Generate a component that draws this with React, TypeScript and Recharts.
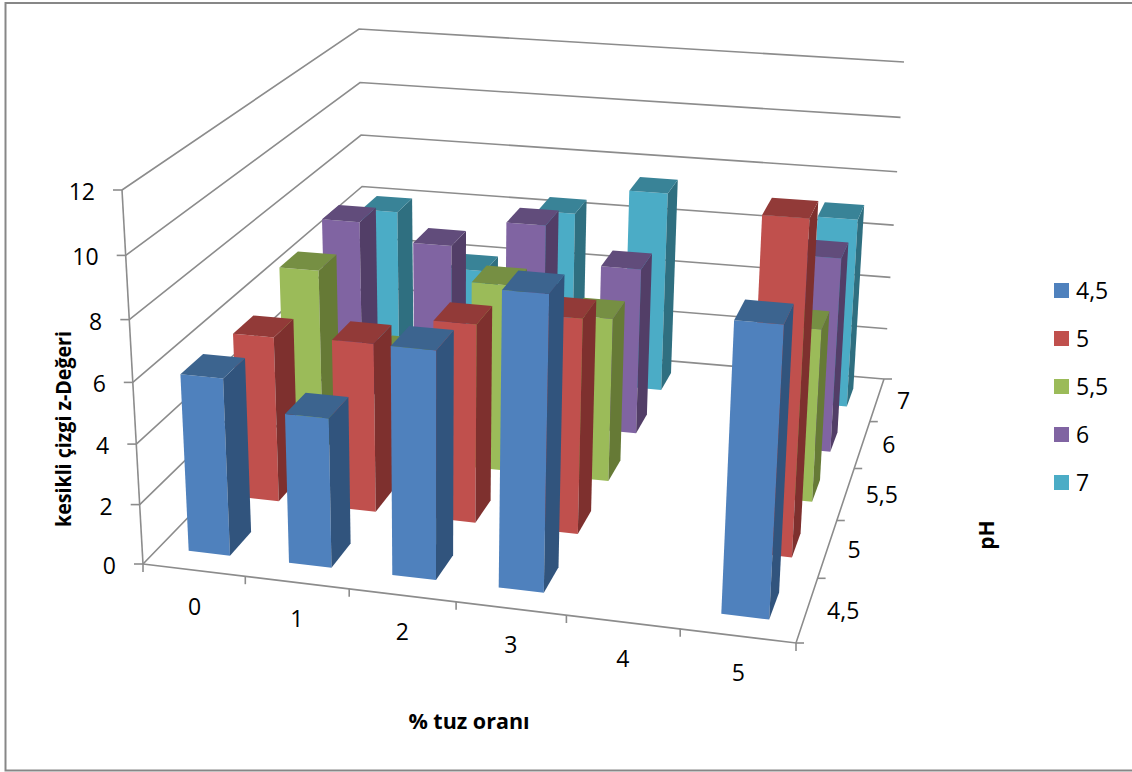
import { BarChart, Bar, XAxis, YAxis, Legend } from 'recharts';

const saltLabels = ['0', '1', '2', '3', '4', '5'];
const phLabels = ['4,5', '5', '5,5', '6', '7'];
const valueTicks = [0, 2, 4, 6, 8, 10, 12];

const ph45 = [5.9, 4.95, 7.45, 9.5, null, 9.2];
const ph5 = [5.7, 5.8, 6.75, 7.25, null, 11.0];
const ph55 = [6.55, 3.8, 6.6, 5.75, null, 6.0];
const ph6 = [6.95, 6.35, 7.35, 6.05, null, 7.0];
const ph7 = [6.05, 4.05, 6.5, 7.5, null, 7.05];

const seriesValues = [ph45, ph5, ph55, ph6, ph7];
const frontColors = ['#4F81BD', '#C0504D', '#9BBB59', '#8064A2', '#4BACC6'];
const topColors = ['#3C648F', '#923A38', '#768F43', '#614C7B', '#398397'];
const sideColors = ['#31547D', '#7E302E', '#667A36', '#523E67', '#2F6F80'];

const tableData = saltLabels.map((salt, i) => {
    const row: Record<string, string | number | null> = { salt };
    phLabels.forEach((ph, s) => { row[ph] = seriesValues[s][i]; });
    return row;
});

// flat plot area the library scales into, it then gets projected onto the 3d box
const PLOT = { left: 100, top: 100, width: 600, height: 480 };
const FONT = '"Open Sans", sans-serif';
const AXIS_COLOR = '#8C8C8C';
const AXIS_W = 60;
const AXIS_H = 30;
const BAR_SIZE = 41.5;

type Pt = [number, number];

// corners: front-left, front-right, back-right, back-left
const FLOOR: Pt[] = [[143, 564], [796, 643], [884, 379], [365, 335]];
const CEILING: Pt[] = [[122, 190], [817, 246], [904, 62], [359, 29]];

const squareToQuad = (q: Pt[]) => {
    const [[x0, y0], [x1, y1], [x2, y2], [x3, y3]] = q;
    const dx1 = x1 - x2, dx2 = x3 - x2, sx = x0 - x1 + x2 - x3;
    const dy1 = y1 - y2, dy2 = y3 - y2, sy = y0 - y1 + y2 - y3;
    const det = dx1 * dy2 - dx2 * dy1;
    const g = (sx * dy2 - dx2 * sy) / det;
    const h = (dx1 * sy - sx * dy1) / det;
    const a = x1 - x0 + g * x1, b = x3 - x0 + h * x3;
    const d = y1 - y0 + g * y1, e = y3 - y0 + h * y3;
    return (u: number, v: number): Pt => {
        const w = g * u + h * v + 1;
        return [(a * u + b * v + x0) / w, (d * u + e * v + y0) / w];
    };
};

const floorAt = squareToQuad(FLOOR);
const ceilingAt = squareToQuad(CEILING);

// u along % tuz, v along pH, h along the value axis, all 0..1
const project = (u: number, v: number, h: number): Pt => {
    const f = floorAt(u, v);
    const c = ceilingAt(u, v);
    const t = h / (1 + 0.06 * (1 - h)); // upper part of the box is a bit closer to the camera
    return [f[0] + (c[0] - f[0]) * t, f[1] + (c[1] - f[1]) * t];
};

const toPath = (pts: Pt[]) => 'M' + pts.map(p => p[0].toFixed(1) + ',' + p[1].toFixed(1)).join('L') + 'Z';
const toLine = (pts: Pt[]) => 'M' + pts.map(p => p[0].toFixed(1) + ',' + p[1].toFixed(1)).join('L');

const Box = (props: any) => {
    const { x, y, width, height, row } = props;
    if (!height || !isFinite(height) || height <= 0) return null;
    const u0 = (x + 1 - PLOT.left) / PLOT.width;
    const u1 = (x + width + 1 - PLOT.left) / PLOT.width;
    const h = height / PLOT.height;
    const v0 = (row + 0.29) / phLabels.length;
    const v1 = (row + 0.71) / phLabels.length;
    const front = [project(u0, v0, 0), project(u1, v0, 0), project(u1, v0, h), project(u0, v0, h)];
    const side = [project(u1, v0, 0), project(u1, v1, 0), project(u1, v1, h), project(u1, v0, h)];
    const top = [project(u0, v0, h), project(u1, v0, h), project(u1, v1, h), project(u0, v1, h)];
    return (
        <g>
            <path d={toPath(front)} fill={frontColors[row]} />
            <path d={toPath(side)} fill={sideColors[row]} />
            <path d={toPath(top)} fill={topColors[row]} />
        </g>
    );
};

const SaltTick = (props: any) => {
    const { x, payload } = props;
    const p = project((x - PLOT.left) / PLOT.width, 0, 0);
    return (
        <text x={p[0] + 1.5} y={p[1] + 36} textAnchor="middle" dominantBaseline="central" fontFamily={FONT} fontSize={23} fill="#000">
            {payload.value}
        </text>
    );
};

const ValueTick = (props: any) => {
    const { y, payload } = props;
    const p = project(0, 0, (PLOT.top + PLOT.height - y) / PLOT.height);
    return (
        <text x={p[0] - 27} y={p[1] + 1} textAnchor="end" dominantBaseline="central" fontFamily={FONT} fontSize={23} fill="#000">
            {payload.value}
        </text>
    );
};

// walls, floor edges and the pH axis, which the flat chart has no axis for
const Walls = () => {
    const n = saltLabels.length;
    const m = phLabels.length;
    return (
        <g fill="none" stroke={AXIS_COLOR} strokeWidth={1.6}>
            <rect x={5.5} y={3} width={1132} height={767.5} stroke="#878787" strokeWidth={2} />
            {valueTicks.map(t => {
                const h = t / 12;
                const a = project(0, 0, h);
                return (
                    <g key={t}>
                        <path d={toLine([a, project(0, 1, h), project(1, 1, h)])} />
                        <path d={toLine([[a[0] - 9, a[1]], a])} />
                    </g>
                );
            })}
            <path d={toLine([project(0, 0, 0), project(0, 0, 1)])} />
            <path d={toLine([project(0, 0, 0), project(1, 0, 0), project(1, 1, 0)])} />
            {saltLabels.concat('').map((_, i) => {
                const a = project(i / n, 0, 0);
                const shift = i === 0 || i === n ? 0 : 1.5;
                return <path key={i} d={toLine([[a[0] + shift, a[1]], [a[0] + shift, a[1] + 8]])} />;
            })}
            {phLabels.concat('').map((_, i) => {
                const a = project(1, i / m, 0);
                return <path key={i} d={toLine([a, [a[0] + 8, a[1]]])} />;
            })}
        </g>
    );
};

const Titles = () => (
    <g fontFamily={FONT} fill="#000">
        {phLabels.map((ph, i) => {
            const p = project(1, (i + 0.5) / phLabels.length, 0);
            return (
                <text key={ph} x={p[0] + 20} y={p[1]} dominantBaseline="central" fontSize={23}>{ph}</text>
            );
        })}
        <text x={469} y={720} textAnchor="middle" dominantBaseline="central" fontSize={21.5} fontWeight={700}>% tuz oranı</text>
        <text transform="translate(63,429) rotate(-90)" textAnchor="middle" dominantBaseline="central" fontSize={21} fontWeight={700} textLength={196} lengthAdjust="spacingAndGlyphs">kesikli çizgi z-Değeri</text>
        <text transform="translate(986,535) rotate(-90)" textAnchor="middle" dominantBaseline="central" fontSize={21} fontWeight={700}>pH</text>
    </g>
);

const LegendBox = () => (
    <div style={{ fontFamily: FONT, fontSize: 23, color: '#000' }}>
        {phLabels.map((ph, i) => (
            <div key={ph} style={{ display: 'flex', alignItems: 'center', height: 48 }}>
                <span style={{ width: 15, height: 15, background: frontColors[i], marginRight: 7 }} />
                {ph}
            </div>
        ))}
    </div>
);

export default function App() {
    const rows = phLabels.map((_, i) => i).reverse();
    return (
        <div style={{ position: 'absolute', left: 0, top: 0 }}>
            <BarChart
                width={1132}
                height={772}
                data={tableData}
                margin={{
                    top: PLOT.top,
                    left: PLOT.left - AXIS_W,
                    right: 1132 - PLOT.left - PLOT.width,
                    bottom: 772 - PLOT.top - PLOT.height - AXIS_H,
                }}
                barSize={BAR_SIZE}
                barGap={-BAR_SIZE}
            >
                <Walls />
                <XAxis dataKey="salt" height={AXIS_H} interval={0} axisLine={false} tickLine={false} tick={<SaltTick />} />
                <YAxis width={AXIS_W} domain={[0, 12]} ticks={valueTicks} axisLine={false} tickLine={false} tick={<ValueTick />} />
                {rows.map(row => (
                    <Bar
                        key={row}
                        dataKey={phLabels[row]}
                        fill={frontColors[row]}
                        isAnimationActive={false}
                        shape={(p: any) => <Box {...p} row={row} />}
                    />
                ))}
                <Titles />
                <Legend
                    layout="horizontal"
                    verticalAlign="middle"
                    content={<LegendBox />}
                    wrapperStyle={{ position: 'absolute', left: 1054, top: 266, width: 78 }}
                />
            </BarChart>
        </div>
    );
}
